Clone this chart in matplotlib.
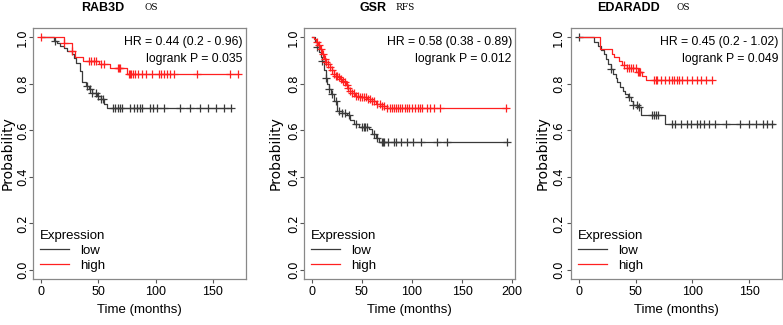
import numpy as np
import matplotlib
matplotlib.use("Agg")
import matplotlib.pyplot as plt

# RAB3D (OS)
rab_low_t = [0, 11, 14, 17, 20, 23, 27, 29, 31, 34, 36, 39, 42, 45, 49, 52, 55, 58]
rab_low_s = [1.0, 0.985, 0.974, 0.964, 0.954, 0.943, 0.928, 0.911, 0.89, 0.856, 0.806, 0.79,
             0.777, 0.762, 0.748, 0.733, 0.712, 0.694]
rab_low_end = 166
rab_low_cens = [12, 40, 43, 45, 48, 50, 52, 54, 63, 65, 67, 69, 71, 78, 81, 84, 86, 88, 95, 98,
                101, 107, 121, 130, 139, 146, 153, 160, 166]
rab_high_t = [0, 20, 27, 30, 37, 51, 60, 75]
rab_high_s = [1.0, 0.974, 0.943, 0.914, 0.90, 0.884, 0.868, 0.842]
rab_high_end = 172
rab_high_cens = [0, 20, 27, 42, 44, 46, 48, 52, 55, 67, 68, 69, 77, 78, 79, 80, 82, 85, 88, 92,
                 97, 103, 105, 107, 110, 113, 116, 136, 165, 172]

# GSR (RFS)
gsr_low_t = [0, 3, 5, 7, 9, 10, 12, 14, 15, 17, 19, 22, 25, 30, 35, 38, 42, 47, 57, 60, 64, 67]
gsr_low_s = [1.0, 0.98, 0.96, 0.935, 0.915, 0.9, 0.86, 0.827, 0.8, 0.777, 0.755, 0.728, 0.685,
             0.675, 0.664, 0.645, 0.626, 0.612, 0.605, 0.583, 0.565, 0.549]
gsr_low_end = 195
gsr_low_cens = [5, 10, 14, 17, 20, 24, 27, 30, 33, 37, 44, 50, 52, 53, 55, 62, 65, 70, 71, 72,
                76, 82, 84, 89, 95, 101, 109, 125, 135, 195]
gsr_high_t = [0, 2, 4, 6, 8, 10, 12, 14, 16, 18, 20, 22, 24, 26, 28, 30, 32, 34, 36, 38, 40,
              43, 47, 55, 60, 64, 70, 75]
gsr_high_s = [1.0, 0.993, 0.98, 0.965, 0.95, 0.93, 0.906, 0.895, 0.885, 0.872, 0.86, 0.842,
              0.835, 0.828, 0.82, 0.813, 0.806, 0.795, 0.783, 0.77, 0.76, 0.748, 0.741, 0.734,
              0.725, 0.713, 0.705, 0.697]
gsr_high_end = 195
gsr_high_cens = [5, 7, 9, 11, 13, 14, 16, 18, 20, 22, 24, 25, 27, 29, 31, 33, 35, 36, 38, 40,
                 42, 44, 46, 48, 50, 52, 54, 56, 58, 60, 62, 65, 68, 70, 72, 75, 78, 80, 82, 84,
                 86, 88, 90, 93, 95, 97, 100, 103, 106, 108, 110, 115, 118, 122, 128, 194]

# EDARADD (OS)
eda_low_t = [0, 13.5, 16.5, 19.5, 22.5, 24, 26, 28, 30.5, 32.5, 34, 36.5, 38.5, 41, 43.5, 46,
             47.5, 52, 55, 76]
eda_low_s = [1.0, 0.978, 0.964, 0.946, 0.928, 0.907, 0.885, 0.864, 0.843, 0.825, 0.806, 0.788,
             0.771, 0.756, 0.742, 0.725, 0.71, 0.699, 0.667, 0.627]
eda_low_end = 172
eda_low_cens = [0, 28, 44, 48, 51, 53, 64, 66, 68, 70, 82, 85, 90, 95, 99, 104, 107, 110, 115,
                120, 130, 142, 150, 156, 162, 166, 170]
eda_high_t = [0, 19, 29, 31, 35, 38, 42, 52, 56, 59]
eda_high_s = [1.0, 0.95, 0.93, 0.915, 0.9, 0.882, 0.866, 0.852, 0.835, 0.818]
eda_high_end = 117
eda_high_cens = [40, 42, 44, 46, 48, 50, 52, 53, 54, 66, 68, 69, 72, 76, 79, 82, 84, 86, 88,
                 91, 95, 100, 104, 108, 112, 117]

genes = ["RAB3D", "GSR", "EDARADD"]
endpoints = ["OS", "RFS", "OS"]
hr_text = ["HR = 0.44 (0.2 - 0.96)", "HR = 0.58 (0.38 - 0.89)", "HR = 0.45 (0.2 - 1.02)"]
p_text = ["logrank P = 0.035", "logrank P = 0.012", "logrank P = 0.049"]
xmax = [172, 195, 172]
xticks = [[0, 50, 100, 150], [0, 50, 100, 150, 200], [0, 50, 100, 150]]

panels = [
    [(rab_low_t, rab_low_s, rab_low_end, rab_low_cens),
     (rab_high_t, rab_high_s, rab_high_end, rab_high_cens)],
    [(gsr_low_t, gsr_low_s, gsr_low_end, gsr_low_cens),
     (gsr_high_t, gsr_high_s, gsr_high_end, gsr_high_cens)],
    [(eda_low_t, eda_low_s, eda_low_end, eda_low_cens),
     (eda_high_t, eda_high_s, eda_high_end, eda_high_cens)],
]

ARIAL = ["Liberation Sans", "DejaVu Sans"]
LOW_COL = "#3a3a3a"
HIGH_COL = "#ff2020"

fig = plt.figure(figsize=(7.83, 3.25), dpi=100)
W, H = 783.0, 325.0
lefts = [33, 304, 571]
widths = [213, 211, 211]
ylab_x = [15, 283, 550]     # right edge of the rotated y label, in pixels
ytick_pad = [0.0, 0.0, 1.4]
title_x = [(103, 151), (373, 405), (629, 683)]

for i in range(3):
    ax = fig.add_axes([lefts[i] / W, 1 - 279 / H, widths[i] / W, 251 / H])
    for (t, s, end, cens), col, lab in zip(panels[i], [LOW_COL, HIGH_COL], ["low", "high"]):
        tt = np.append(t, end)
        ss = np.append(s, s[-1])
        ax.step(tt, ss, where="post", color=col, lw=0.9, label=lab)
        idx = np.searchsorted(t, cens, side="right") - 1
        ax.plot(cens, np.array(s)[idx], ls="none", marker="+", ms=6, mew=0.9, color=col)

    pad = 0.04 * xmax[i]
    ax.set_xlim(-pad, xmax[i] + pad)
    ax.set_ylim(-0.04, 1.04)
    ax.set_xticks(xticks[i])
    ax.set_xticklabels([str(v) for v in xticks[i]], family=ARIAL, fontsize=9)
    ax.set_yticks([0.0, 0.2, 0.4, 0.6, 0.8, 1.0])
    ax.set_yticklabels(["0.0", "0.2", "0.4", "0.6", "0.8", "1.0"], rotation=90, va="center",
                       fontsize=8.5)
    ax.tick_params(length=3, width=0.8, color="#555555")
    ax.tick_params(axis="x", pad=2)
    ax.tick_params(axis="y", pad=ytick_pad[i])
    for sp in ax.spines.values():
        sp.set_color("#888888")
        sp.set_linewidth(0.9)
    ax.set_ylabel("Probability", fontsize=10)
    ax.yaxis.set_label_coords((ylab_x[i] - lefts[i]) / widths[i], 0.5)
    ax.set_xlabel("Time (months)", fontsize=9.5, family=ARIAL, labelpad=4)

    ax.text(0.985, 0.945, hr_text[i], transform=ax.transAxes, ha="right", va="center",
            fontsize=8.8, family=ARIAL)
    ax.text(0.985, 0.877, p_text[i], transform=ax.transAxes, ha="right", va="center",
            fontsize=8.8, family=ARIAL)

    leg = ax.legend(loc="lower left", frameon=False, title="Expression",
                    prop={"family": ARIAL, "size": 9.5}, handlelength=2.2,
                    borderaxespad=0.25, labelspacing=0.2, handletextpad=0.8,
                    borderpad=0.3)
    leg.get_title().set_family(ARIAL)
    leg.get_title().set_fontsize(9.5)
    leg._legend_box.align = "left"

    fig.text(title_x[i][0] / W, 1 - 8 / H, genes[i], ha="center", va="center",
             fontsize=9, fontweight="bold", family=ARIAL)
    fig.text(title_x[i][1] / W, 1 - 8 / H, endpoints[i], ha="center", va="center",
             fontsize=6.5, family="DejaVu Serif")

fig.savefig("out.png", dpi=100)
